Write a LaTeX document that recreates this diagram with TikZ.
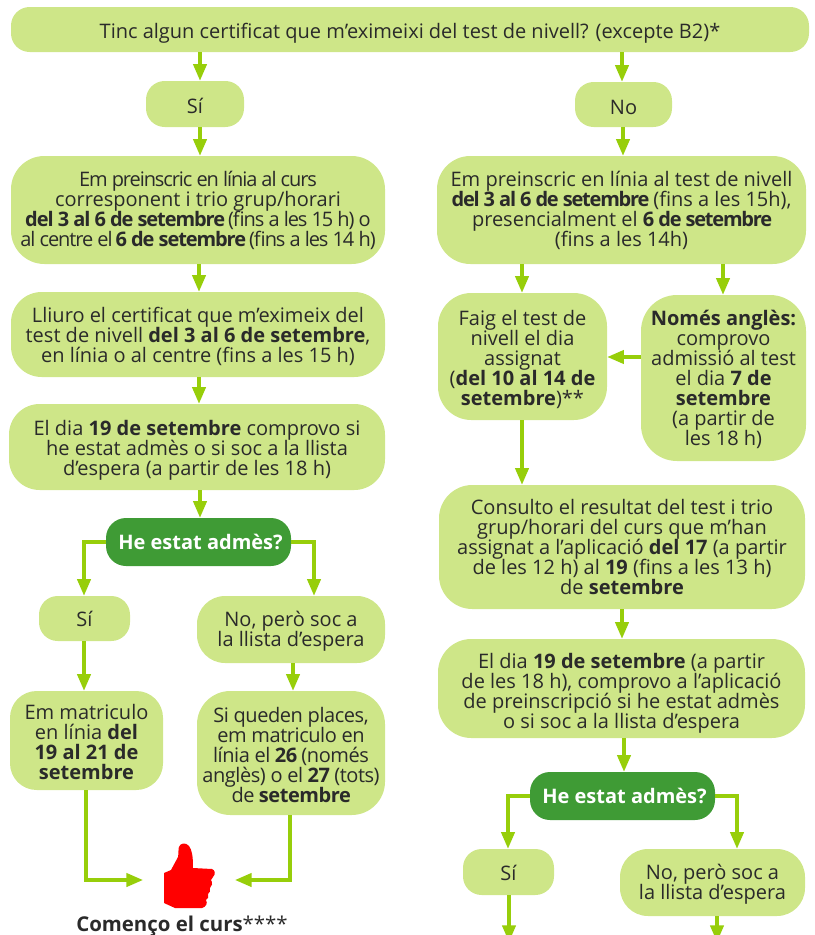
\documentclass[tikz,border=0pt]{standalone}
\usepackage{fontspec}
\setmainfont{Open Sans}
\newfontfamily\tightL{Open Sans}[LetterSpace=-5.4]
\newfontfamily\tightM{Open Sans}[LetterSpace=-2.2]
\newfontfamily\tightB{Open Sans}[LetterSpace=-6]
\usetikzlibrary{arrows.meta}
\newcommand{\fixedlines}{\lineskiplimit=-30pt\relax}
\newcommand{\dn}[1]{\rule{0pt}{#1pt}}
\definecolor{boxgreen}{HTML}{CEE688}
\definecolor{arrowgreen}{HTML}{97CE0A}
\definecolor{darkgreen}{HTML}{3F9B35}
\definecolor{inktext}{HTML}{2A2A2A}
\tikzset{
  size/.style 2 args={minimum width=#1*0.75pt,minimum height=#2*0.75pt},
  flowbox/.style={fill=boxgreen,text=inktext,inner sep=0pt,align=center,text depth=0pt,
    font=\fontsize{15}{15}\selectfont\fixedlines},
  smallr/.style={flowbox,rounded corners=14pt},
  midr/.style={flowbox,rounded corners=21pt},
  bigr/.style={flowbox,rounded corners=25pt},
  certr/.style={flowbox,rounded corners=23pt},
  decision/.style={fill=darkgreen,text=white,inner sep=0pt,align=center,rounded corners=15pt,
    font=\fontsize{15}{15}\selectfont\bfseries},
  arr/.style={draw=arrowgreen,line width=2.4pt,-{Triangle[length=12.5pt,width=10pt,fill=arrowgreen]}},
}
\begin{document}
\begin{tikzpicture}[x=0.75pt,y=-0.75pt]
\useasboundingbox (0,0) rectangle (814,935);
\node[smallr,size={798}{45}] (top) at (410,29.5) {\dn{13.5}Tinc algun certificat que m’eximeixi del test de nivell? (excepte B2)*};
\node[smallr,size={98}{46}] (si1) at (195,104) {\dn{14.5}Sí};
\node[bigr,text depth=1.5pt,size={374}{108}] (preL) at (198,210) {{\tightL Em preinscric en línia al curs}\\corresponent i trio grup/horari\\{\tightL\textbf{del 3 al 6 de setembre} (fins a les 15 h) o}\\{\tightL al centre el \textbf{6 de setembre} (fins a les 14 h)}};
\node[certr,size={374}{85}] (cert) at (198,334.5) {Lliuro el certificat que m’eximeix del\\test de nivell \textbf{del 3 al 6 de setembre},\\en línia o al centre (fins a les 15 h)};
\node[certr,size={376}{86}] (dia) at (197,447) {\dn{13}El dia \textbf{19 de setembre} comprovo si\\he estat admès o si soc a la llista\\d’espera (a partir de les 18 h)};
\node[decision,size={185}{48}] (adm) at (198.5,542) {\hspace*{3pt}He estat admès?};
\node[smallr,size={91}{45}] (si2) at (84.5,618.5) {Sí};
\node[midr,text depth=1.5pt,size={188}{67}] (no2) at (291,629.5) {No, però soc a\\la llista d’espera};
\node[midr,rounded corners=20pt,size={153}{99}] (mat) at (86.5,740.5) {\dn{13}Em matriculo\\en línia \textbf{del}\\\textbf{19 al 21 de}\\\textbf{setembre}};
\node[bigr,size={188}{124}] (sique) at (291,753) {\dn{14.6}{\tightM Si queden places,}\\{\tightM em matriculo en}\\{\tightM línia el \textbf{26} (només}\\{\tightM anglès) o el \textbf{27} (tots)}\\{\tightM de \textbf{setembre}}};
\node[smallr,size={97}{45}] (no1) at (623.5,104.5) {\dn{14.5}No};
\node[bigr,text depth=1.5pt,size={369}{108}] (preR) at (621.5,210) {Em preinscric en línia al test de nivell\\{\tightB\textbf{del 3 al 6 de setembre}} (fins a les 15h),\\presencialment el {\tightB\textbf{6 de setembre}}\\(fins a les 14h)};
\node[bigr,size={169}{127}] (faig) at (522.5,356.5) {\dn{13}Faig el test de\\nivell el dia\\assignat\\(\textbf{del 10 al 14 de}\\\textbf{setembre})**};
\node[bigr,rounded corners=27pt,size={165}{166}] (nomes) at (723.5,378) {\textbf{Només anglès:}\\comprovo\\admissió al test\\el dia \textbf{7 de}\\\textbf{setembre}\\(a partir de\\les 18 h)};
\node[bigr,size={366}{124}] (cons) at (622,547) {Consulto el resultat del test i trio\\grup/horari del curs que m’han\\assignat a l’aplicació \textbf{del 17} (a partir\\de les 12 h) al \textbf{19} (fins a les 13 h)\\de \textbf{setembre}};
\node[bigr,size={367}{99}] (dia2) at (621.5,688.5) {\dn{14.6}El dia \textbf{19 de setembre} (a partir\\de les 18 h), comprovo a l’aplicació\\de preinscripció si he estat admès\\o si soc a la llista d’espera};
\node[decision,size={185}{48}] (adm2) at (622.5,796) {\hspace*{3pt}He estat admès?};
\node[smallr,size={91}{46}] (si3) at (508.5,872) {\dn{13}Sí};
\node[midr,text depth=1.5pt,size={185}{67}] (no3) at (712.5,882.5) {No, però soc a\\la llista d’espera};
\node[inner sep=0pt,text=inktext,font=\fontsize{15.3}{15}\selectfont] (start) at (182,926) {\textbf{Començo el curs}****};
\path[fill=red] (164,873) -- (171,870) -- (178,857) .. controls (179,852) and (178,848) .. (179,847) .. controls (180,843) and (186,842) .. (189,846) .. controls (192,850) and (193,856) .. (193,868) -- (212,869) .. controls (215,870) and (216,874) .. (213,877) -- (211,880) .. controls (213,883) and (212,886) .. (210,888) .. controls (210,891) and (210,893) .. (208,894) .. controls (209,897) and (208,899) .. (206,900) .. controls (208,903) and (206,907) .. (202,908) -- (175,908) -- (164,903) -- cycle;
\coordinate (thumbL) at (143,880);
\coordinate (thumbR) at (235,880);
\coordinate (endL) at (509,942);
\coordinate (endR) at (717,942);
\coordinate (xa) at (200,0);
\coordinate (xb) at (622,0);
\coordinate (xc) at (199,0);
\coordinate (xd) at (623,0);
\coordinate (xe) at (522,0);
\coordinate (xf) at (723,0);
\coordinate (xg) at (624,0);
\coordinate (xh) at (84,0);
\coordinate (xi) at (314,0);
\coordinate (xj) at (293,0);
\coordinate (xk) at (86,0);
\coordinate (xl) at (290,0);
\coordinate (xm) at (508,0);
\coordinate (xn) at (737,0);
\coordinate (yn) at (0,357);
\draw[arr] (top.south -| xa) -- (si1.north -| xa);
\draw[arr] (si1.south -| xa) -- (preL.north -| xa);
\draw[arr] (preL.south -| xc) -- (cert.north -| xc);
\draw[arr] (cert.south -| xc) -- (dia.north -| xc);
\draw[arr] (dia.south -| xa) -- (adm.north -| xa);
\draw[arr] (adm.west) -| (si2.north -| xh);
\draw[arr] (adm.east) -| (no2.north -| xi);
\draw[arr] (si2.south -| xh) -- (mat.north -| xh);
\draw[arr] (no2.south -| xj) -- (sique.north -| xj);
\draw[arr] (mat.south -| xk) |- (thumbL);
\draw[arr] (sique.south -| xl) |- (thumbR);
\draw[arr] (top.south -| xb) -- (no1.north -| xb);
\draw[arr] (no1.south -| xd) -- (preR.north -| xd);
\draw[arr] (preR.south -| xe) -- (faig.north -| xe);
\draw[arr] (preR.south -| xf) -- (nomes.north -| xf);
\draw[arr] (nomes.west |- yn) -- (faig.east |- yn);
\draw[arr] (faig.south -| xe) -- (cons.north -| xe);
\draw[arr] (cons.south -| xb) -- (dia2.north -| xb);
\draw[arr] (dia2.south -| xg) -- (adm2.north -| xg);
\draw[arr] (adm2.west) -| (si3.north -| xm);
\draw[arr] (adm2.east) -| (no3.north -| xn);
\draw[arr] (si3.south -| endL) -- (endL);
\draw[arr] (no3.south -| endR) -- (endR);
\end{tikzpicture}
\end{document}
